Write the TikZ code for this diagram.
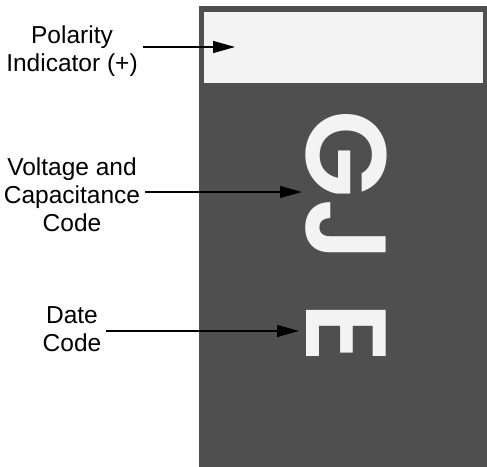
\documentclass[tikz,border=0pt]{standalone}
\usepackage{fontspec}
\setmainfont{Liberation Sans}
\newfontfamily\markfont{Poppins SemiBold}
\usetikzlibrary{positioning, arrows.meta}
\definecolor{body}{HTML}{4F4F4F}
\definecolor{band}{HTML}{F3F3F3}

\begin{document}
\begin{tikzpicture}[x=1pt, y=1pt,
    label/.style={align=center, inner sep=5pt, font=\fontsize{24.5}{28}\selectfont},
    codemark/.style={text=band, rotate=-90, anchor=base, inner sep=0pt,
                 font=\markfont\fontsize{114}{114}\selectfont},
    arr/.style={-{Triangle[length=22pt, width=12pt]}, line width=1.3pt}]
        \useasboundingbox (0,0) rectangle (487,466);
        \fill[body] (199,460) rectangle (490,-2);
        \fill[band] (204,454) rectangle (483,383);

        \node[codemark] (gj) at (306,279) {GJ};
        \node[codemark] (dc) at (306,133) {E};

        \node[label] (pol)  at (72,415)  {Polarity\\Indicator (+)};
        \node[label] (volt) at (72,271)  {Voltage and\\Capacitance\\Code};
        \node[label] (date) at (72,137)  {Date\\Code};

        \coordinate (p0) at (235,419);
        \coordinate (p1) at (302,274);
        \coordinate (p2) at (299,135);

        \draw[arr] (pol.east |- p0)  -- (p0);
        \draw[arr] (volt.east |- p1) -- (p1);
        \draw[arr] (date.east |- p2) -- (p2);
      \end{tikzpicture}
\end{document}
